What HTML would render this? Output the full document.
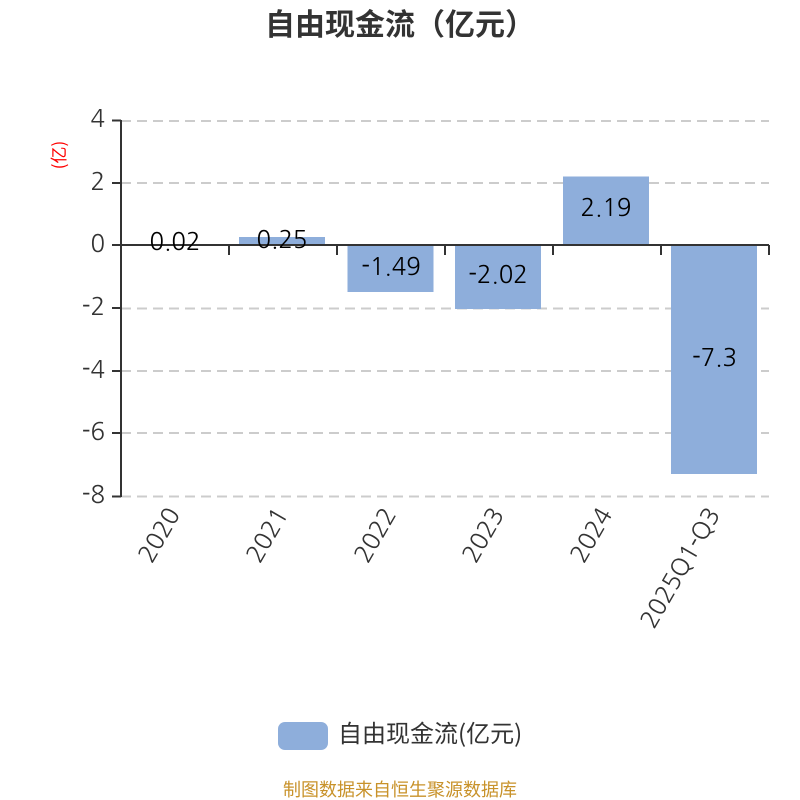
<!DOCTYPE html>
<html><head><meta charset="utf-8"><style>
html,body{margin:0;padding:0;background:#fff}
svg{display:block}
text{font-family:"Noto Sans CJK SC",sans-serif;text-spacing-trim:space-all;font-feature-settings:"palt" 0}
.a{font-family:"NanumGothic","Noto Sans CJK SC",sans-serif}
</style></head><body>
<svg width="800" height="800" viewBox="0 0 800 800" xmlns="http://www.w3.org/2000/svg">
<text x="265" y="35" font-size="30" font-weight="700" fill="#333" style="text-spacing-trim:space-all">自由现金流（亿元）</text>
<g stroke="#ccc" stroke-width="2" stroke-dasharray="10 6" fill="none">
<path d="M121 121H769M121 183H769M121 308.500H769M121 371H769M121 433H769M121 496.500H769"/>
</g>
<g fill="#8eaedb">
<rect x="131" y="244" width="86" height="1"/>
<rect x="239" y="237" width="86" height="8"/>
<rect x="347.500" y="245" width="86" height="47"/>
<rect x="455" y="245" width="86" height="64"/>
<rect x="563" y="176.500" width="86" height="68.500"/>
<rect x="671" y="245" width="86" height="229"/>
</g>
<g stroke="#333" stroke-width="2" fill="none">
<path d="M121 120V497"/>
<path d="M112 120.500H121M112 183H121M112 245H121M112 308H121M112 371H121M112 433H121M112 496.500H121"/>
<path d="M121 245H769"/>
<path d="M229 245V255M337 245V255M445 245V255M553 245V255M661 245V255M769 245V255"/>
</g>
<g font-size="24" fill="#333" text-anchor="end">
<text class="a" x="105" y="127">4</text>
<text class="a" x="105" y="190">2</text>
<text class="a" x="105" y="252">0</text>
<text class="a" x="105" y="315">-2</text>
<text class="a" x="105" y="378">-4</text>
<text class="a" x="105" y="440">-6</text>
<text class="a" x="105" y="503">-8</text>
</g>
<text transform="translate(65,155) rotate(-90)" font-size="17" fill="#f00" text-anchor="middle">(亿)</text>
<g font-size="24" fill="#000" text-anchor="middle">
<text class="a" x="175" y="250">0.02</text>
<text class="a" x="282" y="248">0.25</text>
<text class="a" x="391" y="275">-1.49</text>
<text class="a" x="498" y="283">-2.02</text>
<text class="a" x="606" y="216">2.19</text>
<text class="a" x="714.500" y="366">-7.3</text>
</g>
<g font-size="24" fill="#333" text-anchor="end">
<text class="a" transform="translate(174,510) rotate(-60)" x="0" y="8">2020</text>
<text class="a" transform="translate(282,510) rotate(-60)" x="0" y="8">2021</text>
<text class="a" transform="translate(390,510) rotate(-60)" x="0" y="8">2022</text>
<text class="a" transform="translate(498,510) rotate(-60)" x="0" y="8">2023</text>
<text class="a" transform="translate(606,510) rotate(-60)" x="0" y="8">2024</text>
<text class="a" transform="translate(714,510) rotate(-60)" x="0" y="8">2025Q1-Q3</text>
</g>
<rect x="278" y="722" width="50" height="28" rx="7" fill="#8eaedb"/>
<text x="338" y="742" font-size="24" fill="#333">自由现金流(亿元)</text>
<text x="400" y="796" font-size="18" fill="#c8922a" text-anchor="middle">制图数据来自恒生聚源数据库</text>
</svg>
</body></html>
